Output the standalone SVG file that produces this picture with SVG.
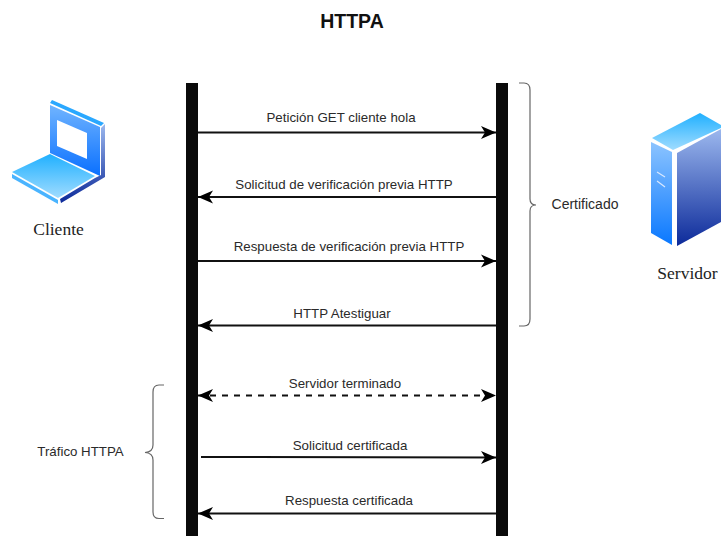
<svg xmlns="http://www.w3.org/2000/svg" width="721" height="536" viewBox="0 0 721 536">
<style>
text{font-family:"Liberation Sans",Arial,sans-serif;font-size:13.300px;fill:#2a2a2a;text-anchor:middle}
.s{font-family:"Liberation Serif","Times New Roman",serif;font-size:17.500px;fill:#222}
.m{stroke:#111;stroke-width:2;fill:none}
.b{stroke:#666;stroke-width:1.2;fill:none}
</style>
<defs>
<marker id="a" markerUnits="userSpaceOnUse" markerWidth="16" markerHeight="14" refX="15" refY="7" orient="auto-start-reverse"><path d="M0 .5L15 7L0 13.500L4 7Z" fill="#000"/></marker>
<linearGradient id="g1" x1="0" y1="0" x2="0" y2="1"><stop offset="0" stop-color="#8cc4ff"/><stop offset="1" stop-color="#0a78ff"/></linearGradient>
<linearGradient id="g2" x1="0" y1="0" x2="0" y2="1"><stop offset="0" stop-color="#9cb8ee"/><stop offset="1" stop-color="#0c2a9a"/></linearGradient>
<linearGradient id="g3" x1="0" y1="0" x2="0" y2="1"><stop offset="0" stop-color="#20b0ff"/><stop offset="1" stop-color="#a0dcff"/></linearGradient>
<linearGradient id="g4" x1="0" y1="0" x2="0" y2="1"><stop offset="0" stop-color="#70b4ff"/><stop offset="1" stop-color="#0a70ff"/></linearGradient>
</defs>
<text x="352" y="28" style="font-size:19.500px;font-weight:bold;fill:#111">HTTPA</text>
<g id="lifelines"><rect x="186" y="83" width="12" height="453" fill="#0a0a0a"/><rect x="496" y="83" width="12" height="453" fill="#0a0a0a"/></g>
<g id="connectors">
<path class="m" marker-end="url(#a)" d="M198 132.500H496"/>
<path class="m" marker-end="url(#a)" d="M496 197H198"/>
<path class="m" marker-end="url(#a)" d="M198 261H496"/>
<path class="m" marker-end="url(#a)" d="M496 325.500H198"/>
<path class="m" stroke-dasharray="6 6" marker-start="url(#a)" marker-end="url(#a)" d="M198 395.500H496"/>
<path class="m" marker-end="url(#a)" d="M201 457L496 457.500"/>
<path class="m" marker-end="url(#a)" d="M496 513.500H198"/>
</g>
<g id="labels">
<text x="341" y="122">Petición GET cliente hola</text>
<text x="344" y="189">Solicitud de verificación previa HTTP</text>
<text x="349" y="251">Respuesta de verificación previa HTTP</text>
<text x="342" y="318">HTTP Atestiguar</text>
<text x="345" y="388">Servidor terminado</text>
<text x="350" y="450">Solicitud certificada</text>
<text x="349" y="505">Respuesta certificada</text>
</g>
<g id="certificado"><path class="b" d="M519 83H524Q530 83 530 90V199Q530 205 536 205Q530 205 530 211V319Q530 326 524 326H519"/><text x="585" y="209" style="font-size:14px">Certificado</text></g>
<g id="trafico"><path class="b" d="M164 385H159Q153 385 153 392V445Q153 452 145 452.500Q153 453 153 460V512Q153 518.500 159 518.500H164"/><text x="80.500" y="455.500">Tráfico HTTPA</text></g>
<g id="cliente">
<path d="M52 100L104 123L101 126L50 103Z" fill="#2aa8ff"/>
<path d="M50 105L100 127V176L50 153Z" fill="url(#g4)"/>
<path d="M57 120L87 133V159L57 146Z" fill="#fff"/>
<path d="M101 128L105 124V177L61 203L60 199L95 178L101 175Z" fill="url(#g2)"/>
<path d="M12 172L50 154L95 176L58 198Z" fill="url(#g3)"/>
<path d="M12 174L58 200V204L12 178Z" fill="#4ab4ff"/>
<text class="s" x="58.500" y="235">Cliente</text>
</g>
<g id="servidor">
<path d="M652 138L700 113L721 125V128L673 150Z" fill="url(#g3)"/>
<path d="M651 142L672 152V245L651 233Z" fill="url(#g1)"/>
<path d="M677 153L721 129V222L677 246Z" fill="url(#g2)"/>
<path d="M657 172L665 177M657 181L665 187" stroke="#d8e8ff" stroke-width="1.200"/>
<text class="s" x="687.500" y="279">Servidor</text>
</g>
</svg>
